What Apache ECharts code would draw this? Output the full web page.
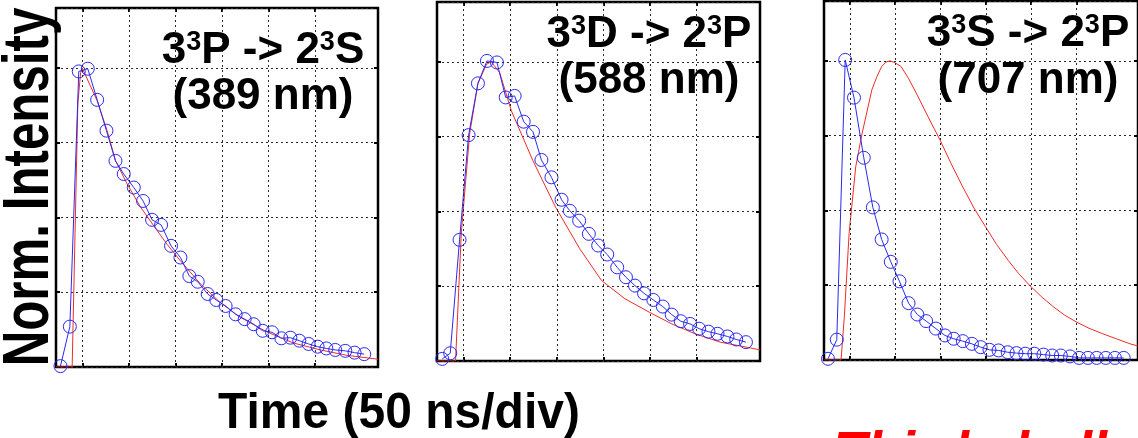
<!DOCTYPE html>
<html><head><meta charset="utf-8">
<script src="https://cdn.jsdelivr.net/npm/echarts@6/dist/echarts.min.js"></script>
<style>html,body{margin:0;padding:0;background:#fff}#c{width:1138px;height:438px}</style>
</head><body><div id="c"></div>
<script>
// ---- data (time in ns, 50 ns per division; intensity normalized) ----
var gridTicks = [0, 50, 100, 150, 200, 250];
var titles = [
  ['3{s|3}P -> 2{s|3}S', '(389 nm)'],
  ['3{s|3}D -> 2{s|3}P', '(588 nm)'],
  ['3{s|3}S -> 2{s|3}P', '(707 nm)']
];
// Panel 1 : 389 nm
var p1MeasT = [-23.7,-13.6,-4.0,5.7,15.8,25.8,35.5,44.4,55.2,65.2,74.9,84.6,95.3,105.4,115,124,134.7,144,154,164.8,174.5,184.2,193.9,204,214,223.7,233.3,243.3,253,262.4,272,282.8,292.8,303.2];
var p1MeasI = [0.003,0.135,0.988,0.997,0.893,0.79,0.689,0.645,0.60,0.555,0.492,0.475,0.405,0.366,0.304,0.285,0.244,0.224,0.204,0.176,0.16,0.143,0.121,0.116,0.096,0.098,0.088,0.077,0.068,0.062,0.057,0.054,0.048,0.043];
var p1ModT = [-28.5,-11.1,-8,-5,-2,-0.4,15.8,26.5,35.5,48,62.4,76.7,91,105.4,126.9,148.4,169.9,198.6,227.2,256,284.6,318];
var p1ModI = [0,0,0.45,0.88,0.985,1.0,0.89,0.79,0.69,0.612,0.535,0.472,0.41,0.355,0.278,0.215,0.166,0.117,0.08,0.057,0.039,0.026];
// Panel 2 : 588 nm
var p2MeasT = [-22.9,-14.3,-4.3,5.4,15.4,25.1,35.8,45.2,54.8,64.5,74.5,83.5,94.3,105.1,114,124,134.4,144.4,154.1,164.8,174.2,183.9,193.6,203.6,213.7,223.3,233,243,252.7,262.7,272.4,283.1,292.5,302.9];
var p2MeasI = [0.007,0.026,0.405,0.755,0.928,1.003,0.998,0.881,0.886,0.80,0.766,0.672,0.614,0.539,0.502,0.469,0.425,0.386,0.356,0.313,0.28,0.252,0.226,0.204,0.182,0.155,0.133,0.124,0.108,0.098,0.091,0.082,0.072,0.063];
var p2ModT = [-28.5,-8.6,-2.5,6.5,15.4,24.7,29.7,38.7,51.3,74.5,98.9,124.7,148,173.1,199.3,223.3,248.4,275.3,304,318];
var p2ModI = [0,0,0.425,0.759,0.928,0.992,1.0,0.964,0.836,0.669,0.513,0.375,0.269,0.208,0.163,0.124,0.091,0.063,0.046,0.037];
// Panel 3 : 707 nm
var p3MeasT = [-24.1,-14.4,-5.1,4.6,15.4,25.4,35.1,45.2,54.8,64.8,74.5,84.2,94.9,105,114.6,124.7,134.7,144.4,154.1,164.1,174.2,183.9,193.6,203.6,213.6,223.3,232.9,243,253,262.7,272.4,282.4,292.5,302.2];
var p3MeasI = [0.004,0.068,1.003,0.877,0.676,0.51,0.403,0.328,0.263,0.19,0.152,0.13,0.105,0.082,0.071,0.063,0.054,0.043,0.034,0.032,0.026,0.023,0.021,0.021,0.018,0.015,0.015,0.012,0.007,0.007,0.007,0.007,0.007,0.007];
var p3ModT = [-28.5,-9.7,-6.1,-0.8,6.5,13.6,24.3,30,35.1,40,44.1,49,56.6,65,74.5,86,99.6,112,124.7,137,149.8,162,174.8,186,198.2,212,225,237,250.1,264,278.8,294,309.3,320];
var p3ModI = [0,0,0.143,0.423,0.646,0.758,0.903,0.948,0.981,0.996,1.0,0.995,0.981,0.94,0.885,0.815,0.735,0.655,0.578,0.508,0.445,0.386,0.333,0.29,0.25,0.21,0.177,0.15,0.127,0.106,0.088,0.071,0.054,0.045];

var meas = [[p1MeasT,p1MeasI],[p2MeasT,p2MeasI],[p3MeasT,p3MeasI]];
var mods = [[p1ModT,p1ModI],[p2ModT,p2ModI],[p3ModT,p3ModI]];

function zip(a,b){return a.map(function(v,i){return [v,b[i]];});}

var grids = [
  {left:56, top:8, width:322, height:359},
  {left:437, top:2, width:323, height:359},
  {left:824, top:1, width:324, height:359}
];
var titlePos = [[263,51,97],[649,35,81],[1028,34,81]];

var FONT = '"Liberation Sans", Arial, sans-serif';
var dash = {color:'#2a2a2a', width:1, type:[2,3]};
var opt = {backgroundColor:'#fff', animation:false, grid:[], xAxis:[], yAxis:[], series:[], graphic:[]};

grids.forEach(function(g, k){
  opt.grid.push({left:g.left, top:g.top, width:g.width, height:g.height, show:true, borderColor:'#000', borderWidth:2.5, backgroundColor:'transparent'});
  ['bottom','top'].forEach(function(pos){
    opt.xAxis.push({type:'value', gridIndex:k, position:pos, min:-28.5, max:318, axisLine:{show:false, onZero:false},
      axisTick:{show:true, inside:true, length:4, lineStyle:{color:'#000', width:2}, customValues:gridTicks},
      axisLabel:{show:false}, splitLine:{show:false}});
  });
  ['left','right'].forEach(function(pos){
    opt.yAxis.push({type:'value', gridIndex:k, position:pos, min:0, max:1.2, interval:0.25, axisLine:{show:false, onZero:false},
      axisTick:{show:true, inside:true, length:4, lineStyle:{color:'#000', width:2}},
      axisLabel:{show:false}, splitLine:{show: pos==='left', lineStyle:dash}});
  });
  opt.series.push({type:'line', xAxisIndex:2*k, yAxisIndex:2*k, data:zip(mods[k][0],mods[k][1]), symbol:'none',
    lineStyle:{color:'#f02a2a', width:1}, z:3, clip:true,
    markLine:{silent:true, symbol:'none', label:{show:false}, lineStyle:dash, animation:false,
      data: gridTicks.map(function(t){return {xAxis:t};})}});
  opt.series.push({type:'line', xAxisIndex:2*k, yAxisIndex:2*k, data:zip(meas[k][0],meas[k][1]), symbol:'circle', symbolSize:13,
    showSymbol:true, clip:false,
    itemStyle:{color:'rgba(0,0,0,0)', borderColor:'#2a2af0', borderWidth:1},
    lineStyle:{color:'#2a2af0', width:1}, z:4});
  var tp = titlePos[k];
  var rich = {s:{fontSize:27, fontWeight:'bold', fontFamily:FONT, fill:'#000', verticalAlign:'top', lineHeight:27, padding:[0,0,14,0]}};
  opt.graphic.push({type:'text', x:tp[0], y:tp[1], z:10, style:{text:titles[k][0], fontSize:44, fontWeight:'bold', fontFamily:FONT, fill:'#000', align:'center', verticalAlign:'middle', rich:rich}});
  opt.graphic.push({type:'text', x:tp[0], y:tp[2], z:10, style:{text:titles[k][1], fontSize:44, fontWeight:'bold', fontFamily:FONT, fill:'#000', align:'center', verticalAlign:'middle'}});
});

opt.graphic.push({type:'text', x:30, y:187, rotation:Math.PI/2, scaleX:0.77, style:{text:'Norm. Intensity', fontSize:64, fontWeight:'bold', fontFamily:FONT, fill:'#000', align:'center', verticalAlign:'middle'}});
opt.graphic.push({type:'text', x:399, y:414, scaleY:1.05, style:{text:'Time (50 ns/div)', fontSize:48, fontWeight:'bold', fontFamily:FONT, fill:'#000', align:'center', verticalAlign:'middle'}});
opt.graphic.push({type:'text', x:834, y:427, style:{text:'Third shell', fontSize:54, fontWeight:'bold', fontStyle:'italic', fontFamily:FONT, fill:'#ff0000', align:'left', verticalAlign:'top'}});

var chart = echarts.init(document.getElementById('c'), null, {renderer:'canvas'});
chart.setOption(opt);
</script></body></html>
